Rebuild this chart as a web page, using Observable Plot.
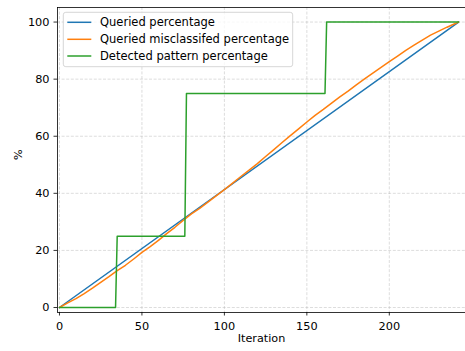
<!DOCTYPE html>
<html>
<head>
<meta charset="utf-8">
<script src="https://cdn.jsdelivr.net/npm/d3@7"></script>
<script src="https://cdn.jsdelivr.net/npm/@observablehq/plot@0.6"></script>
<style>
  html, body { margin: 0; padding: 0; background: #fff; }
  #chart { width: 465px; height: 351px; }
</style>
</head>
<body>
<div id="chart"></div>
<script>
const seriesNames = ["Queried percentage", "Queried misclassifed percentage", "Detected pattern percentage"];
const seriesColors = ["#1f77b4", "#ff7f0e", "#2ca02c"];

const queriedX = [0, 242];
const queriedY = [0, 100];

const misX = [0,5,10,15,20,25,30,35,40,45,50,55,60,65,70,75,80,85,90,95,100,105,110,115,120,125,130,135,140,145,150,155,160,165,170,175,180,185,190,195,200,205,210,215,220,225,230,235,240,242];
const misY = [0,1.6,3.1,4.9,6.8,8.8,10.8,12.9,14.8,17.0,19.3,21.3,23.5,25.9,28.1,30.5,32.8,34.7,36.9,39.1,41.3,43.6,45.9,48.1,50.4,52.9,55.3,57.8,60.2,62.6,65.0,67.3,69.4,71.6,73.8,75.8,78.0,80.1,82.1,84.1,86.1,88.1,90.1,91.9,93.7,95.4,96.8,98.2,99.5,100];

const detX = [0, 34, 35, 76, 77, 161, 162, 242];
const detY = [0, 0, 25, 25, 75, 75, 100, 100];

const xTicks = [0, 50, 100, 150, 200];
const yTicks = [0, 20, 40, 60, 80, 100];

const xDomain = [-1.2, 246.2];
const yDomain = [-1.75, 105.1];

const toRows = (xs, ys) => xs.map((x, i) => ({x, y: ys[i]}));
const queried = toRows(queriedX, queriedY);
const mis = toRows(misX, misY);
const det = toRows(detX, detY);

const gridStyle = {stroke: "#b0b0b0", strokeOpacity: 0.55, strokeWidth: 0.8, strokeDasharray: "3,1.6"};

const chart = Plot.plot({
  width: 465,
  height: 351,
  marginLeft: 57,
  marginRight: 0,
  marginTop: 7,
  marginBottom: 39,
  style: {fontFamily: "DejaVu Sans", fontSize: "11px", color: "#000", background: "#fff"},
  x: {domain: xDomain},
  y: {domain: yDomain},
  marks: [
    Plot.gridX(xTicks, gridStyle),
    Plot.gridY(yTicks, gridStyle),
    Plot.line(queried, {x: "x", y: "y", stroke: seriesColors[0], strokeWidth: 1.5}),
    Plot.line(mis, {x: "x", y: "y", stroke: seriesColors[1], strokeWidth: 1.5}),
    Plot.line(det, {x: "x", y: "y", stroke: seriesColors[2], strokeWidth: 1.5}),
    Plot.ruleX([xDomain[0]], {stroke: "#000", strokeWidth: 0.8}),
    Plot.ruleY([yDomain[0]], {stroke: "#000", strokeWidth: 0.8}),
    Plot.ruleY([yDomain[1]], {stroke: "#000", strokeWidth: 0.8}),
    Plot.axisX(xTicks, {tickSize: 3.5, tickPadding: 6, fontSize: 11.3, label: null, stroke: "#000", strokeWidth: 0.8, fill: "#000"}),
    Plot.axisY(yTicks, {tickSize: 3.5, tickPadding: 4.5, fontSize: 11.3, label: null, stroke: "#000", strokeWidth: 0.8, fill: "#000"}),
    Plot.text(["Iteration"], {frameAnchor: "bottom", dy: 29.5, fontSize: 11.2, fill: "#000"}),
    Plot.text(["%"], {frameAnchor: "left", dx: -39, rotate: -90, fontSize: 11.2, fill: "#000"})
  ]
});

document.getElementById("chart").appendChild(chart);

// legend
const svg = d3.select(chart);
const lg = svg.append("g").attr("font-family", "DejaVu Sans").attr("font-size", 11.5).attr("text-anchor", "start");
lg.append("rect")
  .attr("x", 63.3).attr("y", 12.3).attr("width", 229.4).attr("height", 54.4)
  .attr("rx", 2.5).attr("fill", "#fff").attr("fill-opacity", 0.8)
  .attr("stroke", "#cccccc").attr("stroke-width", 0.8);
const rowY = [22.3, 39.3, 56];
seriesNames.forEach((name, i) => {
  lg.append("line").attr("x1", 67.3).attr("x2", 91.3).attr("y1", rowY[i]).attr("y2", rowY[i])
    .attr("stroke", seriesColors[i]).attr("stroke-width", 1.5);
  lg.append("text").attr("x", 100).attr("y", rowY[i]).attr("dy", "0.35em")
    .attr("text-anchor", "start").attr("fill", "#000").text(name);
});
</script>
</body>
</html>
